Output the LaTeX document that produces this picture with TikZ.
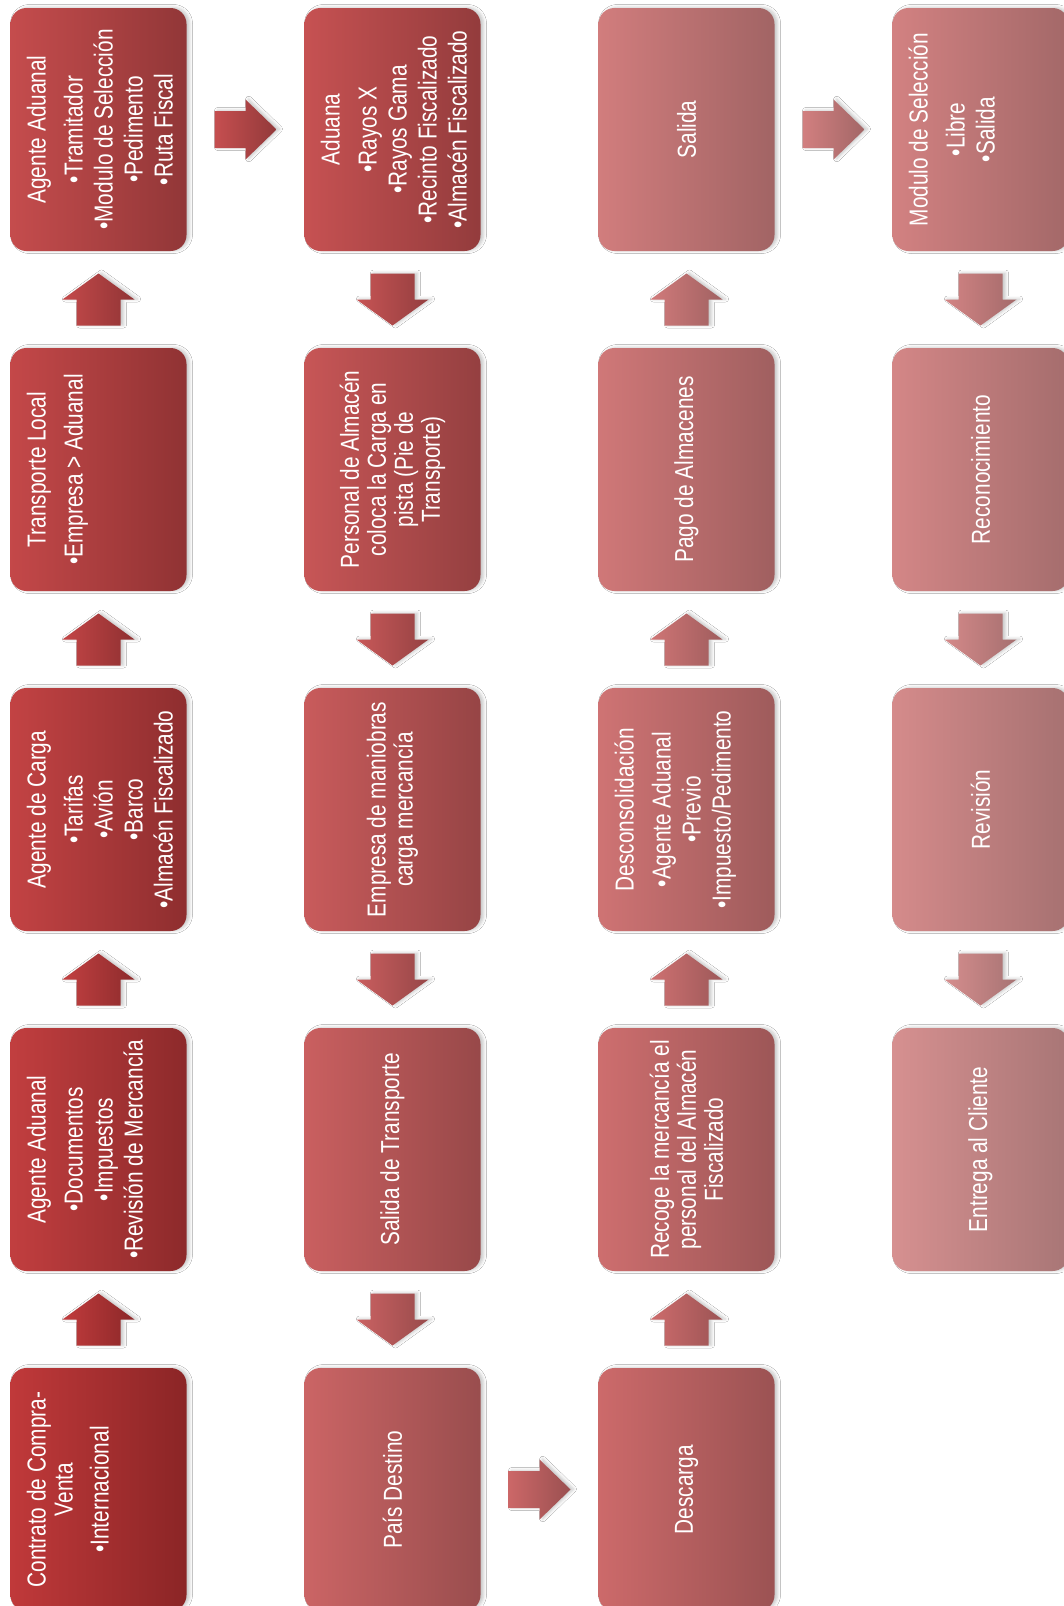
\documentclass[tikz,border=0pt]{standalone}
\usepackage{fontspec}
\newfontfamily\nar{Liberation Sans}[FakeStretch=0.8]
\usetikzlibrary{calc,shadows.blur}
\definecolor{firstL}{RGB}{192,57,58}
\definecolor{lastL}{RGB}{214,144,144}
\definecolor{firstR}{RGB}{139,37,38}
\definecolor{lastR}{RGB}{168,118,118}
\tikzset{
  shd/.style={blur shadow={shadow xshift=3pt, shadow yshift=0.5pt, shadow blur radius=3pt, shadow blur extra rounding=0pt, shadow opacity=22}},
  boxst/.style={rectangle, rounded corners=16pt, minimum width=176pt, minimum height=243pt, inner sep=0pt, shd},
  txt/.style={text=white, rotate=90, align=center, inner sep=0pt, font=\nar\fontsize{26}{27}\selectfont},
  toptxt/.style={txt, anchor=north},
  arrst/.style={shd}
}
\newcommand{\setcols}[1]{%
  \pgfmathtruncatemacro\pp{round((#1)*100/18)}%
  \colorlet{tmpL}{lastL!\pp!firstL}\colorlet{tmpR}{lastR!\pp!firstR}}
\newcommand{\mkbox}[4]{% name, k, left x, top y
  \setcols{#2}%
  \node[boxst, left color=tmpL, right color=tmpR] (#1) at ({#3+88},{-(#4+121.5)}) {};}
\newcommand{\arrUp}[3]{% lower box, upper box, k
  \setcols{#3}%
  \begin{scope}[shift={($(#1.north)!0.5!(#2.south)$)}]
    \path[arrst, left color=tmpL, right color=tmpR] (0,26) -- (36,0) -- (22,0) -- (22,-26) -- (-22,-26) -- (-22,0) -- (-36,0) -- cycle;
  \end{scope}}
\newcommand{\arrDown}[3]{% upper box, lower box, k
  \setcols{#3}%
  \begin{scope}[shift={($(#1.south)!0.5!(#2.north)$)}]
    \path[arrst, left color=tmpL, right color=tmpR] (0,-26) -- (36,0) -- (22,0) -- (22,26) -- (-22,26) -- (-22,0) -- (-36,0) -- cycle;
  \end{scope}}
\newcommand{\arrRight}[3]{% left box, right box, k
  \setcols{#3}%
  \begin{scope}[shift={($(#1.east)!0.5!(#2.west)$)}]
    \path[arrst, left color=tmpL, right color=tmpR] (-31,18.5) -- (0,18.5) -- (0,30) -- (31,0) -- (0,-30) -- (0,-18.5) -- (-31,-18.5) -- cycle;
  \end{scope}}
\newcommand{\tp}{\rule{0pt}{20pt}}
\begin{document}
\begin{tikzpicture}[x=1pt,y=1pt]
\useasboundingbox (0,0) rectangle (1063,-1606);
\fill[white] (0,0) rectangle (1063,-1606);
% boxes
\mkbox{b15}{0}{10.5}{1368}
\mkbox{b14}{1}{10.5}{1028}
\mkbox{b13}{2}{10.5}{688}
\mkbox{b12}{3}{10.5}{348}
\mkbox{b11}{4}{10.5}{8}
\mkbox{b21}{5}{304.5}{8}
\mkbox{b22}{6}{304.5}{348}
\mkbox{b23}{7}{304.5}{688}
\mkbox{b24}{8}{304.5}{1028}
\mkbox{b25}{9}{304.5}{1368}
\mkbox{b35}{10}{598.5}{1368}
\mkbox{b34}{11}{598.5}{1028}
\mkbox{b33}{12}{598.5}{688}
\mkbox{b32}{13}{598.5}{348}
\mkbox{b31}{14}{598.5}{8}
\mkbox{b41}{15}{892.5}{8}
\mkbox{b42}{16}{892.5}{348}
\mkbox{b43}{17}{892.5}{688}
\mkbox{b44}{18}{892.5}{1028}
% connectors
\arrUp{b15}{b14}{0.5}
\arrUp{b14}{b13}{1.5}
\arrUp{b13}{b12}{2.5}
\arrUp{b12}{b11}{3.5}
\arrRight{b11}{b21}{4.5}
\arrDown{b21}{b22}{5.5}
\arrDown{b22}{b23}{6.5}
\arrDown{b23}{b24}{7.5}
\arrDown{b24}{b25}{8.5}
\arrRight{b25}{b35}{9.5}
\arrUp{b35}{b34}{10.5}
\arrUp{b34}{b33}{11.5}
\arrUp{b33}{b32}{12.5}
\arrUp{b32}{b31}{13.5}
\arrRight{b31}{b41}{14.5}
\arrDown{b41}{b42}{15.5}
\arrDown{b42}{b43}{16.5}
\arrDown{b43}{b44}{17.5}
% texts
\node[toptxt] (t15) at ($(b15.west)+(15,0)$) {\tp Contrato de Compra-\\Venta\\[9pt]•Internacional};
\node[toptxt] (t14) at ($(b14.west)+(15,0)$) {\tp Agente Aduanal\\[10pt]•Documentos\\[3pt]•Impuestos\\[3pt]•Revisión de Mercancía};
\node[toptxt] (t13) at ($(b13.west)+(15,0)$) {\tp Agente de Carga\\[10pt]•Tarifas\\[3pt]•Avión\\[3pt]•Barco\\[3pt]•Almacén Fiscalizado};
\node[toptxt] (t12) at ($(b12.west)+(15,0)$) {\tp Transporte Local\\[10pt]•Empresa > Aduanal};
\node[toptxt] (t11) at ($(b11.west)+(15,0)$) {\tp Agente Aduanal\\[10pt]•Tramitador\\[3pt]•Modulo de Selección\\[3pt]•Pedimento\\[3pt]•Ruta Fiscal};
\node[toptxt] (t21) at ($(b21.west)+(15,0)$) {\tp Aduana\\[10pt]•Rayos X\\[3pt]•Rayos Gama\\[3pt]•Recinto Fiscalizado\\[3pt]•Almacén Fiscalizado};
\node[txt] (t22) at (b22) {Personal de Almacén\\coloca la Carga en\\pista (Pie de\\Transporte)};
\node[txt] (t23) at (b23) {Empresa de maniobras\\carga mercancía};
\node[txt] (t24) at (b24) {Salida de Transporte};
\node[txt] (t25) at (b25) {País Destino};
\node[txt] (t35) at (b35) {Descarga};
\node[txt] (t34) at (b34) {Recoge la mercancía el\\personal del Almacén\\Fiscalizado};
\node[toptxt] (t33) at ($(b33.west)+(15,0)$) {\tp Desconsolidación\\[10pt]•Agente Aduanal\\[3pt]•Previo\\[3pt]•Impuesto/Pedimento};
\node[txt] (t32) at (b32) {Pago de Almacenes};
\node[txt] (t31) at (b31) {Salida};
\node[toptxt] (t41) at ($(b41.west)+(15,0)$) {\tp Modulo de Selección\\[10pt]•Libre\\[3pt]•Salida};
\node[txt] (t42) at (b42) {Reconocimiento};
\node[txt] (t43) at (b43) {Revisión};
\node[txt] (t44) at (b44) {Entrega al Cliente};
\end{tikzpicture}
\end{document}
